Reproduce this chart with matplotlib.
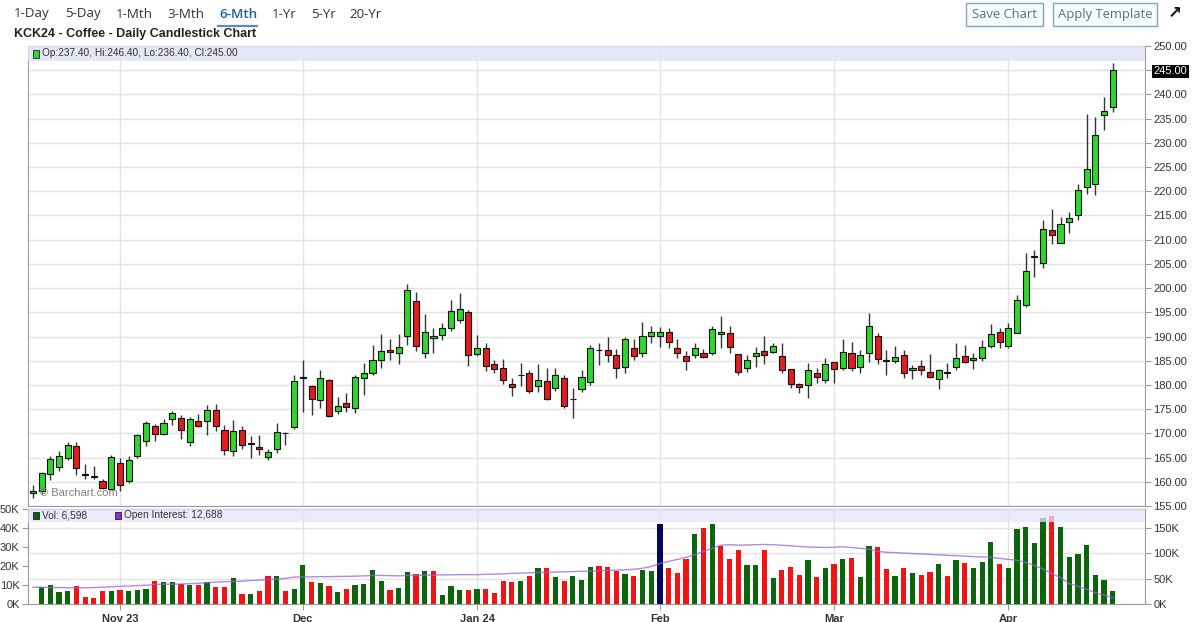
import matplotlib
matplotlib.use("Agg")
import matplotlib.pyplot as plt
from matplotlib.patches import Rectangle
import numpy as np

# daily OHLC for KCK24, Oct 18 2023 .. Apr 17 2024 (one row per session)
opens = [157.6, 158.0, 161.6, 163.1, 164.9, 167.3, 161.7, 161.2, 160.1, 158.5,
         163.9, 160.2, 165.3, 168.5, 171.5, 169.8, 173.0, 173.2, 168.2, 172.5,
         172.5, 174.9, 170.6, 166.3, 170.7, 167.8, 167.1, 165.1, 166.7, 170.1,
         171.4, 181.5, 179.8, 176.9, 181.0, 174.7, 176.2, 175.2, 181.4, 182.5,
         185.2, 187.2, 186.7, 190.1, 197.4, 186.7, 189.6, 190.3, 191.7, 193.4,
         195.0, 186.4, 187.6, 184.3, 183.4, 180.2, 182.1, 182.4, 179.8, 180.9,
         179.4, 181.5, 177.0, 179.1, 180.7, 187.3, 187.2, 186.2, 183.8, 187.7,
         186.7, 190.1, 190.1, 190.9, 187.6, 186.0, 186.2, 186.5, 186.7, 190.5,
         190.7, 186.3, 183.6, 186.0, 187.1, 186.9, 186.0, 183.2, 180.2, 180.0,
         182.4, 181.0, 184.8, 183.4, 186.7, 183.8, 186.7, 190.1, 185.1, 185.0,
         186.2, 183.1, 183.9, 182.7, 181.2, 182.6, 183.8, 186.0, 185.1, 185.5,
         188.0, 191.0, 188.0, 190.8, 196.5, 206.4, 205.1, 212.0, 209.4, 213.7,
         215.1, 220.9, 221.5, 235.7, 237.4]
highs = [159.4, 162.0, 165.4, 166.3, 168.2, 168.2, 163.7, 163.2, 160.6, 165.6,
         164.9, 165.3, 169.8, 172.5, 172.0, 172.9, 174.6, 173.7, 173.4, 173.9,
         175.8, 176.0, 171.8, 172.7, 171.5, 169.4, 169.6, 166.7, 172.2, 170.2,
         182.0, 185.2, 179.9, 183.1, 181.2, 177.6, 178.3, 182.1, 184.5, 188.3,
         190.5, 189.5, 190.5, 200.9, 199.1, 194.7, 191.7, 192.7, 197.6, 198.9,
         195.4, 190.3, 188.6, 185.2, 185.3, 181.4, 184.5, 183.1, 184.3, 183.6,
         183.6, 182.1, 179.3, 183.0, 188.3, 188.6, 189.8, 187.4, 189.8, 189.4,
         193.1, 192.2, 192.0, 191.7, 189.4, 187.1, 188.6, 187.4, 192.2, 194.2,
         192.2, 186.3, 186.2, 187.9, 190.1, 188.7, 188.6, 183.2, 180.3, 184.6,
         183.4, 185.5, 184.8, 189.4, 188.9, 187.2, 194.8, 190.7, 187.2, 188.0,
         187.2, 184.1, 185.1, 186.4, 183.2, 184.5, 188.6, 188.2, 186.5, 189.3,
         192.6, 191.7, 192.7, 198.6, 207.2, 207.8, 214.0, 216.3, 214.7, 215.7,
         221.6, 236.0, 235.4, 239.5, 246.4]
lows = [156.6, 157.5, 160.4, 162.2, 164.5, 161.5, 160.6, 160.5, 158.5, 158.3,
        158.0, 159.7, 165.0, 167.3, 168.4, 169.6, 171.8, 168.9, 167.3, 171.4,
        169.6, 170.5, 165.6, 165.3, 166.7, 164.9, 165.6, 164.4, 166.0, 167.7,
        170.9, 174.5, 173.8, 175.2, 173.3, 174.0, 174.5, 174.3, 177.9, 182.0,
        183.6, 185.2, 184.3, 188.3, 187.1, 185.5, 186.7, 189.3, 191.2, 192.7,
        183.9, 186.0, 182.8, 182.4, 180.2, 177.7, 179.8, 178.3, 178.6, 176.9,
        178.8, 175.2, 173.1, 178.6, 180.0, 184.1, 184.8, 181.4, 182.5, 185.2,
        185.8, 188.6, 187.9, 187.6, 185.5, 183.1, 185.5, 185.5, 186.2, 187.6,
        186.5, 182.1, 182.7, 183.8, 184.3, 186.5, 182.4, 179.3, 178.3, 177.4,
        180.5, 180.3, 180.5, 183.1, 182.9, 182.5, 184.8, 184.3, 182.1, 184.5,
        181.4, 181.2, 182.1, 181.4, 179.1, 181.4, 183.1, 184.5, 183.2, 185.0,
        187.6, 187.6, 187.6, 190.8, 196.2, 202.2, 204.1, 209.2, 209.4, 211.3,
        214.0, 219.5, 219.2, 232.7, 236.4]
closes = [158.0, 161.8, 164.7, 165.3, 167.7, 162.9, 161.4, 161.0, 158.7, 165.1,
          159.3, 164.4, 169.6, 172.2, 169.9, 172.2, 174.3, 170.6, 173.0, 171.6,
          174.9, 171.5, 166.5, 170.5, 167.7, 167.9, 166.7, 166.2, 170.3, 170.0,
          180.8, 181.7, 177.2, 181.4, 173.6, 175.7, 175.5, 181.7, 182.4, 185.2,
          187.1, 186.8, 187.9, 199.6, 188.1, 191.0, 190.1, 191.8, 195.3, 195.6,
          186.2, 187.6, 183.9, 183.2, 181.0, 179.5, 182.0, 178.8, 181.0, 177.2,
          182.1, 175.7, 177.1, 181.7, 187.6, 187.2, 186.2, 183.6, 189.4, 186.0,
          190.1, 190.9, 190.9, 188.9, 186.7, 185.0, 187.7, 185.7, 191.5, 191.0,
          187.9, 182.7, 185.2, 186.7, 186.2, 188.1, 183.1, 180.2, 179.6, 183.0,
          181.6, 184.3, 183.2, 186.9, 183.4, 186.2, 192.1, 185.3, 185.0, 185.7,
          182.5, 183.6, 183.1, 181.6, 183.1, 182.5, 185.5, 184.8, 185.5, 187.9,
          190.6, 188.9, 191.7, 197.5, 203.6, 206.6, 212.3, 210.9, 213.3, 214.5,
          220.2, 224.7, 231.6, 236.6, 245.0]
# volume in thousands (first session has no visible bar)
volume_k = [np.nan, 8.9, 10.2, 6.1, 7.0, 9.6, 3.5, 3.2, 7.0, 7.0,
            7.5, 7.0, 7.5, 8.1, 11.9, 11.4, 11.4, 10.7, 10.0, 10.0,
            11.4, 8.9, 8.9, 13.5, 5.4, 5.4, 7.0, 14.9, 14.6, 7.0,
            7.9, 20.7, 11.4, 11.1, 9.6, 6.3, 7.9, 10.0, 10.5, 17.9,
            11.9, 7.5, 8.4, 17.0, 16.0, 17.5, 17.5, 4.9, 9.5, 7.4,
            7.4, 8.1, 8.1, 6.0, 11.9, 11.6, 11.9, 14.6, 18.9, 18.9,
            14.0, 11.9, 14.9, 12.6, 19.6, 20.0, 19.6, 17.5, 16.0, 14.6,
            18.1, 17.2, 42.1, 19.1, 16.5, 23.9, 37.0, 40.2, 42.1, 30.7,
            23.7, 28.6, 20.5, 20.5, 28.6, 13.5, 18.1, 19.6, 15.1, 23.2,
            14.0, 19.1, 21.1, 23.7, 24.2, 14.0, 30.7, 30.0, 18.6, 14.6,
            19.1, 16.1, 15.4, 17.0, 21.1, 14.6, 23.2, 21.6, 19.1, 22.1,
            32.6, 21.1, 19.1, 39.6, 40.7, 32.1, 45.3, 46.1, 40.7, 24.7,
            26.1, 31.2, 15.4, 12.5, 6.598]
# open interest in thousands
open_interest_k = [33, 33, 32.5, 32.5, 32, 32, 32, 32.5, 33, 34,
                   35, 35.5, 36.5, 37, 38.5, 39, 39, 39.5, 40, 41,
                   42, 43, 44, 44.5, 45, 46.5, 47, 48, 49, 50.5,
                   53, 53.5, 53.5, 54, 54, 54.5, 54.5, 55, 55.5, 56,
                   56.5, 56, 55.5, 56, 56.5, 57, 57, 57.5, 57.5, 58,
                   58, 58, 58.5, 59, 59.5, 60.5, 61, 61.5, 62, 62.5,
                   63, 63.5, 64, 64.5, 65, 65.5, 66, 67, 67.5, 68.5,
                   70.5, 74, 80, 84, 88, 92, 97, 104, 110, 116,
                   117, 116, 116.5, 117, 117.5, 117, 116, 115, 113.5, 112.5,
                   112, 111.5, 112, 113, 111.5, 110, 108, 104, 102, 101.5,
                   100.5, 99.5, 99, 98, 97, 96, 95.5, 94.5, 93.5, 93,
                   92, 90, 88, 86.5, 82, 76, 69, 60, 52, 40,
                   35, 29, 22, 17.5, 12.688]
month_labels = ["Nov 23", "Dec", "Jan 24", "Feb", "Mar", "Apr"]
month_start_idx = [10, 31, 51, 72, 92, 112]
price_ticks = list(range(155, 251, 5))
vol_ticks = [0, 10, 20, 30, 40, 50]
oi_ticks = [0, 50, 100, 150]
periods = ["1-Day", "5-Day", "1-Mth", "3-Mth", "6-Mth", "1-Yr", "5-Yr", "20-Yr"]
selected_highlight = 72   # hovered session shown in navy

W, H = 1200, 622
def fx(px):
    return px / W
def fy(py):
    return 1 - py / H

CANDLE_UP = "#2bd82b"
CANDLE_DN = "#e31c1c"
VOL_UP = "#0b660b"
VOL_DN = "#f01414"
GRID = "#e3e3e3"
SPINE = "#9a9a9a"
BAND = "#e3e3fa"
TXT = "#333333"
FONT = "Liberation Sans"

fig = plt.figure(figsize=(12, 6.22), dpi=100)
fig.patch.set_facecolor("white")

o = np.array(opens); h = np.array(highs); l = np.array(lows); c = np.array(closes)
x = np.arange(len(c))
xlim = (-0.56, 127.7)

# ---------------- price panel ----------------
ax = fig.add_axes([fx(28), fy(506), fx(1145) - fx(28), fy(46) - fy(506)])
ax.set_xlim(*xlim)
ax.set_ylim(155, 250)
for m in month_start_idx:
    ax.axvline(m, color=GRID, lw=1, zorder=0)
for p in price_ticks:
    ax.axhline(p, color=GRID, lw=1, zorder=0)

up = c >= o
body_lo = np.minimum(o, c)
body_h = np.maximum(np.abs(c - o), 0.12)
ax.vlines(x, l, h, color="#333333", lw=1, zorder=2)
ax.bar(x, body_h, bottom=body_lo, width=0.7,
       color=np.where(up, CANDLE_UP, CANDLE_DN), edgecolor="#111111",
       linewidth=0.8, zorder=3)

ax.yaxis.tick_right()
ax.set_yticks(price_ticks)
ax.set_yticklabels([f"{p:.2f}" for p in price_ticks])
ax.tick_params(axis="y", length=4, width=0.8, color=SPINE, pad=2,
               labelsize=8, labelcolor=TXT)
for lab in ax.get_yticklabels():
    lab.set_fontfamily(FONT)
    if lab.get_text() == f"{closes[-1]:.2f}":
        lab.set_color("white")
        lab.set_bbox(dict(facecolor="black", edgecolor="none", pad=1.2))
ax.set_xticks([])
for s in ax.spines.values():
    s.set_color(SPINE)
    s.set_linewidth(0.8)

# legend band in the price panel
band_h = 15 / 460
ax.add_patch(Rectangle((0, 1 - band_h), 1, band_h, transform=ax.transAxes,
                       facecolor=BAND, edgecolor="none", alpha=0.85, zorder=4))
ax.add_patch(Rectangle((0.0045, 1 - band_h * 0.78), 0.0055, band_h * 0.52,
                       transform=ax.transAxes, facecolor=CANDLE_UP,
                       edgecolor="#222222", lw=0.6, zorder=5))
ax.text(0.0125, 1 - band_h / 2,
        f"Op:{opens[-1]:.2f}, Hi:{highs[-1]:.2f}, Lo:{lows[-1]:.2f}, Cl:{closes[-1]:.2f}",
        transform=ax.transAxes, va="center", ha="left", fontsize=7.3,
        color=TXT, family=FONT, zorder=6)
ax.text(0.0105, 0.028, "\u00a9 Barchart.com", transform=ax.transAxes,
        va="center", ha="left", fontsize=8, color="#808080", family=FONT, zorder=6)

# ---------------- volume / open interest panel ----------------
axv = fig.add_axes([fx(28), fy(604), fx(1145) - fx(28), fy(509) - fy(604)])
axb = axv.twinx()   # volume bars, left scale
axl = axv.twinx()   # open interest line, drawn on top
oi_top = 150 * 95 / 76

axv.set_xlim(*xlim)
axv.set_ylim(0, oi_top)
for m in month_start_idx:
    axv.axvline(m, color=GRID, lw=1, zorder=0)
for t in oi_ticks[1:]:
    axv.axhline(t, color=GRID, lw=1, zorder=0)
axv.yaxis.tick_right()
axv.set_yticks(oi_ticks)
axv.set_yticklabels([f"{t}K" for t in oi_ticks])
axv.set_xticks(month_start_idx)
axv.set_xticklabels(month_labels)
axv.tick_params(axis="y", length=4, width=0.8, color=SPINE, pad=2,
                labelsize=8, labelcolor=TXT)
axv.tick_params(axis="x", length=4, width=0.8, color=SPINE, pad=3,
                labelsize=8, labelcolor=TXT)
for lab in axv.get_xticklabels():
    lab.set_fontweight("bold")
    lab.set_fontfamily(FONT)
for lab in axv.get_yticklabels():
    lab.set_fontfamily(FONT)
for s in axv.spines.values():
    s.set_color(SPINE)
    s.set_linewidth(0.8)

axb.set_xlim(*xlim)
axb.set_ylim(0, 50)
prev = np.concatenate([[c[0]], c[:-1]])
vcol = np.where(c >= prev, VOL_UP, VOL_DN).astype(object)
vcol[selected_highlight] = "#06065e"
axb.bar(x, volume_k, width=0.6, color=list(vcol), zorder=2)
axb.yaxis.tick_left()
axb.set_yticks(vol_ticks)
axb.set_yticklabels([f"{t}K" for t in vol_ticks])
axb.tick_params(axis="y", length=4, width=0.8, color=SPINE, pad=2,
                labelsize=8, labelcolor=TXT)
for lab in axb.get_yticklabels():
    lab.set_fontfamily(FONT)
for s in axb.spines.values():
    s.set_visible(False)

axl.set_xlim(*xlim)
axl.set_ylim(0, oi_top)
axl.plot(x, open_interest_k, color="#9b5fe0", lw=1, alpha=0.75, zorder=3)
axl.set_yticks([])
for s in axl.spines.values():
    s.set_visible(False)

vband = 13 / 95
axl.add_patch(Rectangle((0, 1 - vband), 1, vband, transform=axl.transAxes,
                        facecolor=BAND, edgecolor="none", alpha=0.75, zorder=4))
axl.add_patch(Rectangle((0.0045, 1 - vband * 0.8), 0.0055, vband * 0.6,
                        transform=axl.transAxes, facecolor=VOL_UP,
                        edgecolor="#222222", lw=0.6, zorder=5))
axl.text(0.0125, 1 - vband / 2, f"Vol: {round(volume_k[-1] * 1000):,}",
         transform=axl.transAxes, va="center", ha="left", fontsize=7.3,
         color=TXT, family=FONT, zorder=6)
axl.add_patch(Rectangle((0.078, 1 - vband * 0.8), 0.0055, vband * 0.6,
                        transform=axl.transAxes, facecolor="#8a2be2",
                        edgecolor="#222222", lw=0.6, zorder=5))
axl.text(0.0862, 1 - vband / 2, f"Open Interest: {round(open_interest_k[-1] * 1000):,}",
         transform=axl.transAxes, va="center", ha="left", fontsize=7.3,
         color=TXT, family=FONT, zorder=6)

# twinx resets the host's tick side, so put it back
axv.yaxis.tick_right()
axv.tick_params(axis="y", length=4, width=0.8, color=SPINE, pad=2,
                labelsize=8, labelcolor=TXT)

# ---------------- header ----------------
period_x = [14, 65, 116, 167, 219, 272, 311, 349]
for name, px in zip(periods, period_x):
    sel = name == "6-Mth"
    fig.text(fx(px), fy(14), name, ha="left", va="center", fontsize=9.6,
             family="Open Sans", color="#1f5f96" if sel else "#333333",
             fontweight="semibold" if sel else "normal")
fig.add_artist(plt.Line2D([fx(218), fx(257)], [fy(25.5), fy(25.5)],
                          color="#5a8db3", lw=1.6))

fig.text(fx(14), fy(34), "KCK24 - Coffee - Daily Candlestick Chart", ha="left",
         va="center", fontsize=9, fontweight="bold", family=FONT, color="#222222")

for label, x0, x1 in [("Save Chart", 966, 1043), ("Apply Template", 1053, 1157)]:
    fig.add_artist(Rectangle((fx(x0), fy(26)), fx(x1) - fx(x0), fy(3) - fy(26),
                             transform=fig.transFigure, facecolor="#f6fbfc",
                             edgecolor="#7fa8b6", lw=1))
    fig.text(fx((x0 + x1) / 2), fy(14.5), label, ha="center", va="center",
             fontsize=9.4, family="Open Sans", color="#567080")
fig.text(fx(1175), fy(13), "\u2197", ha="center", va="center", fontsize=12,
         fontweight="bold", family="DejaVu Sans", color="#111111")

fig.savefig("out.png", dpi=100, facecolor="white")
